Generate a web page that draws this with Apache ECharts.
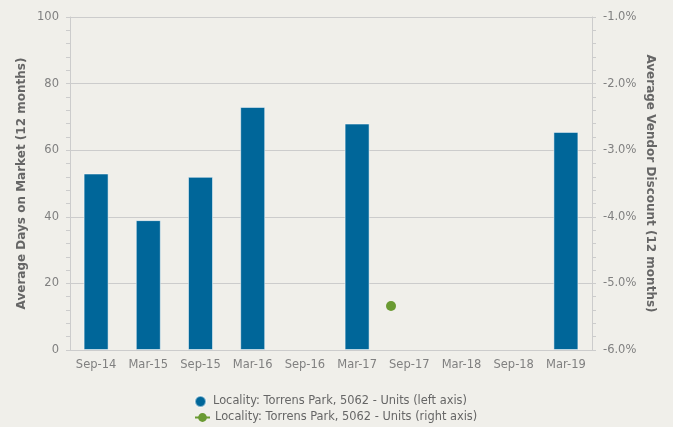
<!DOCTYPE html>
<html>
<head>
<meta charset="utf-8">
<script src="https://cdn.jsdelivr.net/npm/echarts@6/dist/echarts.min.js"></script>
<style>
  html, body { margin: 0; padding: 0; background: #f0efea; }
  #chart { width: 673px; height: 427px; }
</style>
</head>
<body>
<div id="chart"></div>
<script>
// half-year periods on the x axis
const periods = ['Sep-14', 'Mar-15', 'Sep-15', 'Mar-16', 'Sep-16', 'Mar-17', 'Sep-17', 'Mar-18', 'Sep-18', 'Mar-19'];
// average days on market (left axis), null = no bar
const daysOnMarket = [53, 39, 52, 73, null, 68, null, null, null, 65.5];
// vendor discount points (right axis): [position in periods, percent]
const discountPoints = [[5.65, -5.34]];

const leftTicks = { min: 0, max: 100, step: 20 };
const rightTicks = { min: -6, max: -1, step: 1 };

const barName = 'Locality: Torrens Park, 5062 - Units (left axis)';
const pointName = 'Locality: Torrens Park, 5062 - Units (right axis)';

const FONT = 'DejaVu Sans';
const grey = '#cccccc';
const labelGrey = '#808080';

const chart = echarts.init(document.getElementById('chart'), null, { renderer: 'canvas' });

const legendBase = {
  left: 194,
  padding: 0,
  itemWidth: 15,
  itemHeight: 11,
  itemGap: 4,
  textStyle: { fontFamily: FONT, fontSize: 11.4, color: '#666' }
};

const option = {
  backgroundColor: '#f0efea',
  animation: false,
  textStyle: { fontFamily: FONT },
  grid: { left: 70, right: 81, top: 17, bottom: 77 },
  legend: [
    Object.assign({}, legendBase, { top: 395, data: [{ name: barName, icon: 'circle' }] }),
    Object.assign({}, legendBase, { top: 412, data: [{ name: pointName }] })
  ],
  xAxis: [
    {
      type: 'category',
      data: periods,
      boundaryGap: true,
      axisLine: { lineStyle: { color: grey } },
      axisTick: { alignWithLabel: true, length: 6, lineStyle: { color: '#c8d6ea' } },
      axisLabel: { color: labelGrey, fontSize: 11.5, margin: 9, fontFamily: FONT, interval: 0 },
      splitLine: { show: false }
    },
    {
      type: 'value',
      min: -0.5,
      max: 9.5,
      show: false
    }
  ],
  yAxis: [
    {
      type: 'value',
      min: leftTicks.min,
      max: leftTicks.max,
      interval: leftTicks.step,
      name: 'Average Days on Market (12 months)',
      nameLocation: 'middle',
      nameGap: 42,
      nameMoveOverlap: false,
      nameTextStyle: { color: '#666', fontSize: 12, fontWeight: 'bold', fontFamily: FONT },
      axisLine: { show: true, onZero: false, lineStyle: { color: grey } },
      axisTick: { show: true, length: 4, lineStyle: { color: grey } },
      minorTick: { show: true, splitNumber: 5, length: 4, lineStyle: { color: grey } },
      axisLabel: { color: labelGrey, fontSize: 11.5, margin: 11, fontFamily: FONT },
      splitLine: { show: true, lineStyle: { color: grey } }
    },
    {
      type: 'value',
      position: 'right',
      min: rightTicks.min,
      max: rightTicks.max,
      interval: rightTicks.step,
      name: 'Average Vendor Discount (12 months)',
      nameLocation: 'middle',
      nameGap: 52,
      nameMoveOverlap: false,
      nameRotate: -90,
      nameTextStyle: { color: '#666', fontSize: 12, fontWeight: 'bold', fontFamily: FONT },
      axisLine: { show: true, onZero: false, lineStyle: { color: grey } },
      axisTick: { show: true, length: 4, lineStyle: { color: grey } },
      minorTick: { show: true, splitNumber: 5, length: 4, lineStyle: { color: grey } },
      axisLabel: {
        color: labelGrey, fontSize: 11.5, margin: 11, fontFamily: FONT,
        formatter: v => v.toFixed(1) + '%'
      },
      splitLine: { show: false }
    }
  ],
  series: [
    {
      name: barName,
      type: 'bar',
      data: daysOnMarket,
      barWidth: 25,
      itemStyle: { color: '#006699', borderColor: 'rgba(255,255,255,0.5)', borderWidth: 1 }
    },
    {
      name: pointName,
      type: 'line',
      xAxisIndex: 1,
      yAxisIndex: 1,
      data: discountPoints,
      symbol: 'circle',
      symbolSize: 10,
      showSymbol: true,
      lineStyle: { color: '#6a9a32', width: 2 },
      itemStyle: { color: '#6a9a32' }
    }
  ]
};

chart.setOption(option);
</script>
</body>
</html>
